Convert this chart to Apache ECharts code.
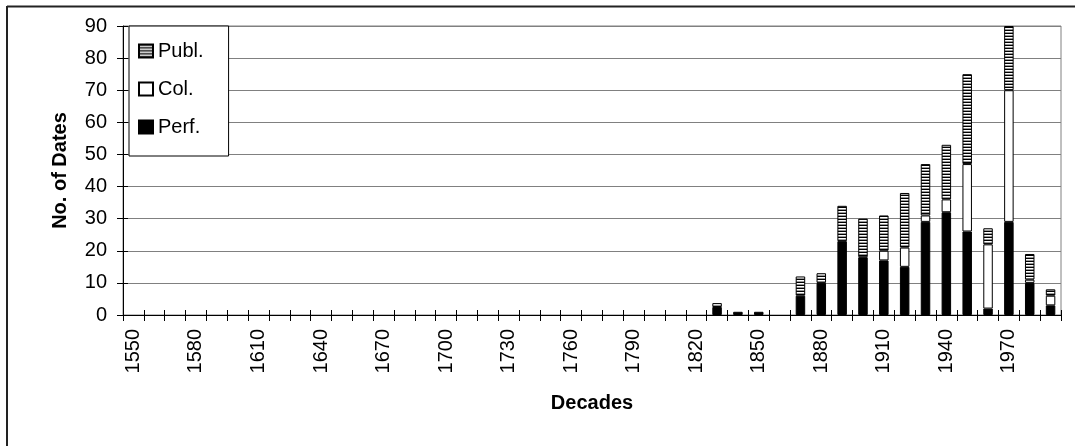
<!DOCTYPE html>
<html>
<head>
<meta charset="utf-8">
<script src="https://cdn.jsdelivr.net/npm/echarts@6/dist/echarts.min.js"></script>
<style>
html,body{margin:0;padding:0;background:#fff;}
#chart{width:1075px;height:446px;}
</style>
</head>
<body>
<div id="chart"></div>
<script>
var decades = ['1550','1560','1570','1580','1590','1600','1610','1620','1630','1640',
  '1650','1660','1670','1680','1690','1700','1710','1720','1730','1740',
  '1750','1760','1770','1780','1790','1800','1810','1820','1830','1840',
  '1850','1860','1870','1880','1890','1900','1910','1920','1930','1940',
  '1950','1960','1970','1980','1990'];
var perf = [0,0,0,0,0,0,0,0,0,0, 0,0,0,0,0,0,0,0,0,0, 0,0,0,0,0,0,0,0,
  2.5,1,1,0,6,10,23,18,17,15,29,32,26,2,29,10,3];
var col = [0,0,0,0,0,0,0,0,0,0, 0,0,0,0,0,0,0,0,0,0, 0,0,0,0,0,0,0,0,
  0,0,0,0,0,0,0,0,3,6,2,4,21,20,41,1,3];
var publ = [0,0,0,0,0,0,0,0,0,0, 0,0,0,0,0,0,0,0,0,0, 0,0,0,0,0,0,0,0,
  1.2,0,0,0,6,3,11,12,11,17,16,17,28,5,20,8,2];
var yTicks = [0,10,20,30,40,50,60,70,80,90];

var FONT = 'Liberation Sans, Arial, sans-serif';

// horizontal stripe pattern for "Publ."
var pc = document.createElement('canvas');
pc.width = 4; pc.height = 3;
var g = pc.getContext('2d');
g.fillStyle = '#000'; g.fillRect(0,0,4,1);
g.fillStyle = '#ffffff'; g.fillRect(0,1,4,1);
g.fillStyle = '#999999'; g.fillRect(0,2,4,1);
var stripe = {image: pc, repeat: 'repeat'};

function nz(a){ return a.map(function(v){ return v === 0 ? '-' : v; }); }

var chart = echarts.init(document.getElementById('chart'), null, {renderer:'canvas'});
var barW = 9.5;
var option = {
  animation: false,
  backgroundColor: '#fff',
  grid: {left: 123, right: 14, top: 26, bottom: 131, show: true, borderColor: '#808080', borderWidth: 1, containLabel: false},
  legend: {
    data: ['Publ.','Col.','Perf.'],
    orient: 'vertical',
    left: 129, top: 26,
    padding: [15, 25, 19, 9],
    itemGap: 18,
    icon: 'rect',
    itemWidth: 14, itemHeight: 13,
    backgroundColor: '#fff',
    borderColor: '#000', borderWidth: 1,
    textStyle: {fontFamily: FONT, fontSize: 20, color: '#000'},
    selectedMode: false
  },
  xAxis: [{
    type: 'category', data: decades, position: 'bottom',
    axisLine: {lineStyle: {color: '#000', width: 1}},
    axisTick: {show: true, interval: 0, length: 6, lineStyle: {color: '#000'}},
    axisLabel: {interval: 2, rotate: 90, margin: 14, fontFamily: FONT, fontSize: 20, color: '#000'},
    splitLine: {show: false},
    name: 'Decades', nameLocation: 'middle', nameGap: 78,
    nameTextStyle: {fontFamily: FONT, fontSize: 20, fontWeight: 'bold', color: '#000'}
  }, {
    type: 'category', data: decades, position: 'bottom', offset: 0,
    axisLine: {show: false},
    axisTick: {show: true, inside: true, interval: 0, length: 5, lineStyle: {color: '#000'}},
    axisLabel: {show: false}, splitLine: {show: false}
  }],
  yAxis: [{
    type: 'value', min: 0, max: 90, interval: 10, position: 'left',
    axisLine: {show: true, lineStyle: {color: '#000', width: 1}},
    axisTick: {show: true, length: 6, lineStyle: {color: '#000'}},
    axisLabel: {margin: 16, fontFamily: FONT, fontSize: 20, color: '#000',
      formatter: function(v){ return yTicks.indexOf(v) >= 0 ? String(v) : ''; }},
    splitLine: {show: true, lineStyle: {color: '#808080', width: 1}},
    name: 'No. of Dates', nameLocation: 'middle', nameGap: 53,
    nameTextStyle: {fontFamily: FONT, fontSize: 20, fontWeight: 'bold', color: '#000'}
  }, {
    type: 'value', min: 0, max: 90, interval: 10, position: 'left', offset: 0,
    axisLine: {show: false},
    axisTick: {show: true, inside: true, length: 5, lineStyle: {color: '#000'}},
    axisLabel: {show: false}, splitLine: {show: false}
  }],
  series: [
    {name: 'Perf.', type: 'bar', stack: 'a', barWidth: barW, data: nz(perf),
      itemStyle: {color: '#000', borderColor: '#000', borderWidth: 1}},
    {name: 'Col.', type: 'bar', stack: 'a', barWidth: barW, data: nz(col),
      itemStyle: {color: '#fff', borderColor: '#000', borderWidth: 1}},
    {name: 'Publ.', type: 'bar', stack: 'a', barWidth: barW, data: nz(publ),
      itemStyle: {color: stripe, borderColor: '#000', borderWidth: 1}}
  ],
  graphic: [
    {type: 'line', shape: {x1: 7, y1: 6.5, x2: 1075, y2: 6.5}, style: {stroke: '#222', lineWidth: 2}, silent: true},
    {type: 'line', shape: {x1: 7, y1: 6, x2: 7, y2: 446}, style: {stroke: '#222', lineWidth: 2}, silent: true}
  ]
};
chart.setOption(option);
</script>
</body>
</html>
